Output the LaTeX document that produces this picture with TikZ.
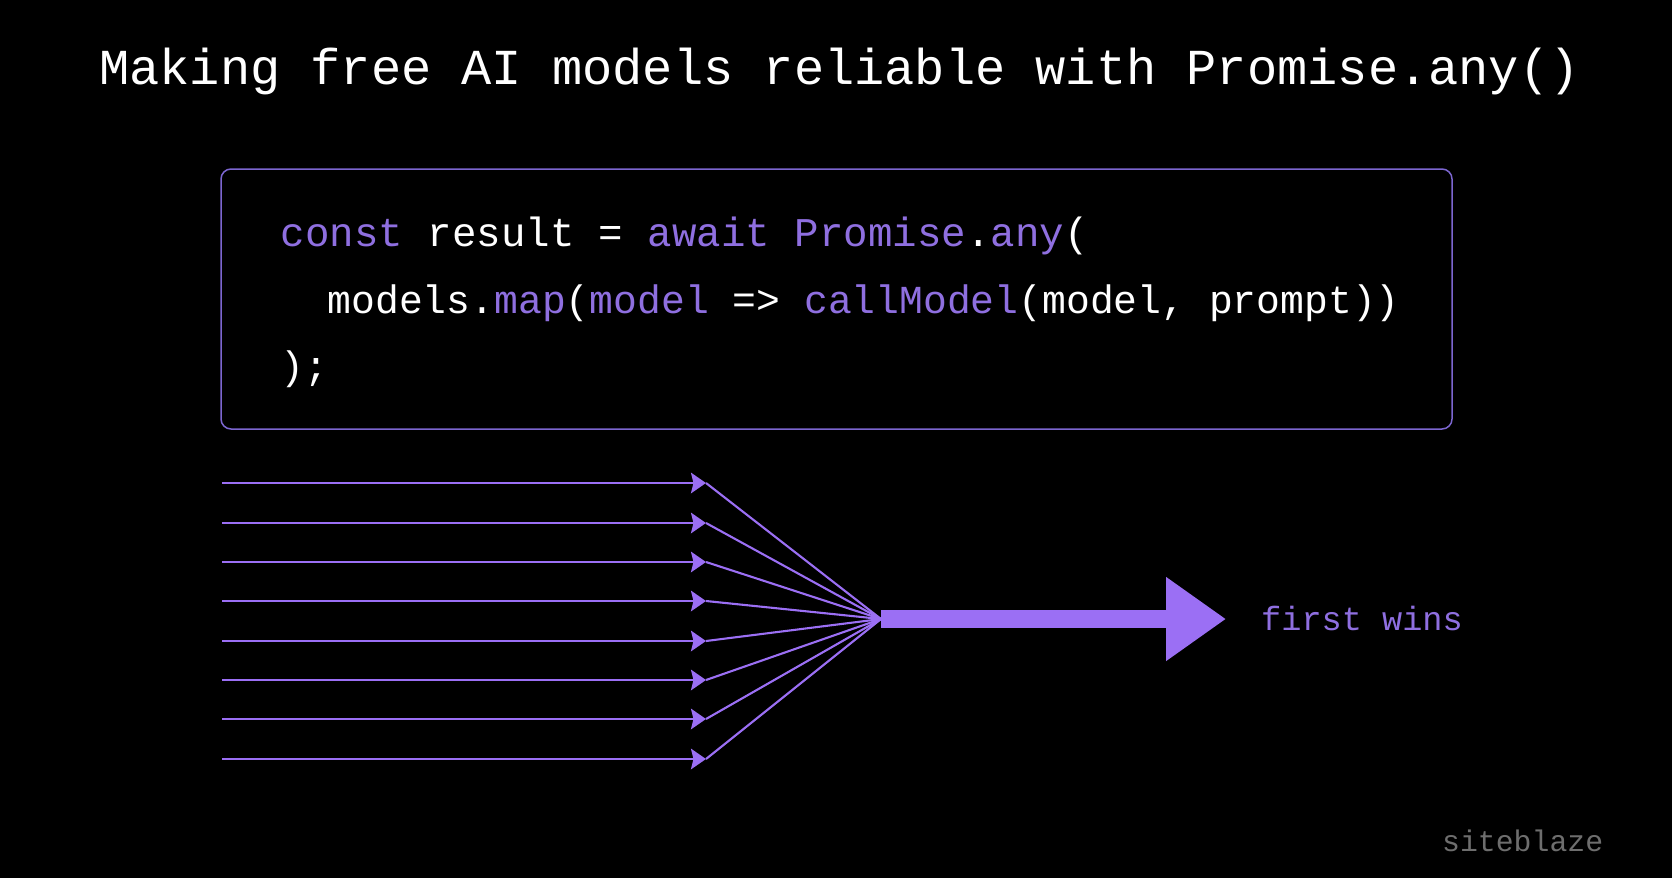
\documentclass[tikz,border=0pt]{standalone}
\usepackage{fontspec}
\setmonofont{Liberation Mono}
\usetikzlibrary{arrows.meta}

\definecolor{violet}{HTML}{9B6FF4}
\definecolor{codeviolet}{HTML}{8F6FE0}
\definecolor{boxviolet}{HTML}{7C66D0}
\definecolor{markgray}{HTML}{6E6E6E}
\newcommand{\kw}[1]{\textcolor{codeviolet}{#1}}

\begin{document}
\begin{tikzpicture}[
        x=1pt, y=-1pt,
        txt/.style={anchor=base west, inner sep=0pt, font=\ttfamily},
        codeline/.style={txt, text=white, font=\fontsize{39.7}{48}\ttfamily}, % Lines inside the box
        codebox/.style={draw=boxviolet, line width=1.5pt, rounded corners=10pt, minimum width=1231pt, minimum height=260pt, inner sep=0pt},
        feed/.style={draw=violet, line width=2.5pt, -{Stealth[length=15pt, width=20.5pt, inset=2.5pt]}},
        fan/.style={draw=violet, line width=2.1pt},
        winner/.style={draw=violet, line width=18.7pt, -{Triangle[length=60pt, width=80pt]}},
    ]

    \fill[black] (0,0) rectangle (1672,878);

    \node[txt, text=white, font=\fontsize{50.35}{60}\ttfamily] (title) at (99,84) {Making free AI models reliable with Promise.any()};

    \node[codebox] (box) at (836.5,299) {};
    \node[codeline, font=\fontsize{40.8}{48}\ttfamily] (line1) at (280.5,246.7) {\kw{const} result = \kw{await} \kw{Promise}.\kw{any}(};
    \node[codeline] (line2) at (327.5,313.3) {models.\kw{map}(\kw{model} => \kw{callModel}(model, prompt))};
    \node[codeline] (line3) at (280.5,379) {);};

    \coordinate (merge) at (881,619);
    \coordinate (out) at (1226,619);

    \coordinate (in1) at (222,483);
    \coordinate (in2) at (222,523);
    \coordinate (in3) at (222,562);
    \coordinate (in4) at (222,601);
    \coordinate (in5) at (222,641);
    \coordinate (in6) at (222,680);
    \coordinate (in7) at (222,719);
    \coordinate (in8) at (222,759);

    \coordinate (tip1) at (706,483);
    \coordinate (tip2) at (706,523);
    \coordinate (tip3) at (706,562);
    \coordinate (tip4) at (706,601);
    \coordinate (tip5) at (706,641);
    \coordinate (tip6) at (706,680);
    \coordinate (tip7) at (706,719);
    \coordinate (tip8) at (706,759);

    \draw[feed] (in1) -- (tip1);
    \draw[feed] (in2) -- (tip2);
    \draw[feed] (in3) -- (tip3);
    \draw[feed] (in4) -- (tip4);
    \draw[feed] (in5) -- (tip5);
    \draw[feed] (in6) -- (tip6);
    \draw[feed] (in7) -- (tip7);
    \draw[feed] (in8) -- (tip8);

    \draw[fan] (tip1) -- (merge);
    \draw[fan] (tip2) -- (merge);
    \draw[fan] (tip3) -- (merge);
    \draw[fan] (tip4) -- (merge);
    \draw[fan] (tip5) -- (merge);
    \draw[fan] (tip6) -- (merge);
    \draw[fan] (tip7) -- (merge);
    \draw[fan] (tip8) -- (merge);

    \draw[winner] (merge) -- (out);

    \node[txt, text=codeviolet, font=\fontsize{33.6}{40}\ttfamily] (wins) at (1261,630) {first wins};
    \node[txt, text=markgray, font=\fontsize{29.8}{36}\ttfamily] (mark) at (1442,851) {siteblaze};
\end{tikzpicture}
\end{document}
